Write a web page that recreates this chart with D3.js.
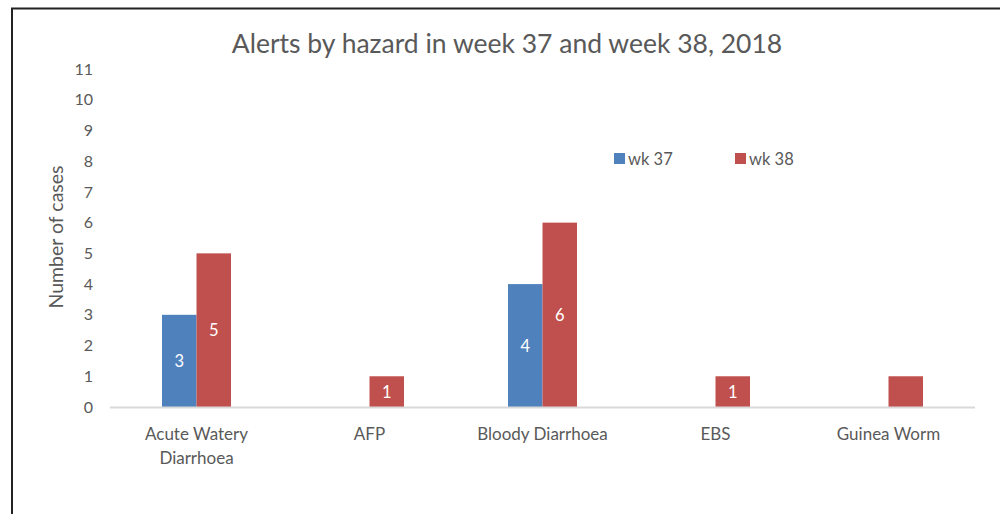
<!DOCTYPE html>
<html>
<head>
<meta charset="utf-8">
<script src="https://cdn.jsdelivr.net/npm/d3@7"></script>
<style>
  body { margin: 0; background: #fff; }
  svg text { font-family: Lato, "Open Sans", sans-serif; }
</style>
</head>
<body>
<div id="chart"></div>
<script>
// Chart data
const categories = ["Acute Watery Diarrhoea", "AFP", "Bloody Diarrhoea", "EBS", "Guinea Worm"];
const categoryLines = [["Acute Watery", "Diarrhoea"], ["AFP"], ["Bloody Diarrhoea"], ["EBS"], ["Guinea Worm"]];
const seriesNames = ["wk 37", "wk 38"];
const wk37 = [3, 0, 4, 0, 0];
const wk38 = [5, 1, 6, 1, 1];
// data labels shown in the bars (the Guinea Worm bar has none)
const wk37Labels = [3, null, 4, null, null];
const wk38Labels = [5, 1, 6, 1, null];
const yTicks = [0, 1, 2, 3, 4, 5, 6, 7, 8, 9, 10, 11];

const colors = ["#4F81BD", "#C0504D"];

const WIDTH = 1000;
const HEIGHT = 514;
const margin = { left: 110, right: 25, top: 69, bottom: 107 };

const svg = d3
  .select("#chart")
  .append("svg")
  .attr("width", WIDTH)
  .attr("height", HEIGHT);

// Outer frame
svg
  .append("rect")
  .attr("x", 12)
  .attr("y", 8.5)
  .attr("width", WIDTH + 20)
  .attr("height", HEIGHT + 20)
  .attr("fill", "none")
  .attr("stroke", "#222")
  .attr("stroke-width", 2);

const x = d3
  .scaleBand()
  .domain(categories)
  .range([margin.left, WIDTH - margin.right])
  .paddingInner(0)
  .paddingOuter(0);

const x1 = d3
  .scaleBand()
  .domain(seriesNames)
  .range([0, 69]);

const y = d3
  .scaleLinear()
  .domain([0, 11])
  .range([HEIGHT - margin.bottom, margin.top]);

// Title
svg
  .append("text")
  .attr("x", 507)
  .attr("y", 53)
  .attr("text-anchor", "middle")
  .style("font-size", "26.5px")
  .style("fill", "#595959")
  .text("Alerts by hazard in week 37 and week 38, 2018");

// Y axis (no line, only labels)
const yAxis = svg
  .append("g")
  .attr("transform", `translate(${margin.left - 17},0)`)
  .call(d3.axisLeft(y).tickValues(yTicks).tickSize(0).tickPadding(0));
yAxis.select(".domain").remove();
yAxis
  .selectAll("text")
  .style("font-size", "16px")
  .style("fill", "#595959");

// Y axis title
svg
  .append("text")
  .attr("transform", `translate(63, 237) rotate(-90)`)
  .attr("text-anchor", "middle")
  .style("font-size", "19.5px")
  .style("fill", "#595959")
  .text("Number of cases");

// Bars
const rows = categories.map((c, i) => ({
  category: c,
  values: [
    { series: seriesNames[0], value: wk37[i], label: wk37Labels[i], color: colors[0] },
    { series: seriesNames[1], value: wk38[i], label: wk38Labels[i], color: colors[1] },
  ],
}));

const groups = svg
  .selectAll(".group")
  .data(rows)
  .enter()
  .append("g")
  .attr("class", "group")
  .attr("transform", (d) => `translate(${x(d.category) + x.bandwidth() / 2 - 34.5},0)`);

groups
  .selectAll("rect")
  .data((d) => d.values.filter((v) => v.value > 0))
  .enter()
  .append("rect")
  .attr("x", (d) => x1(d.series))
  .attr("y", (d) => y(d.value))
  .attr("width", x1.bandwidth())
  .attr("height", (d) => y(0) - y(d.value))
  .attr("fill", (d) => d.color);

groups
  .selectAll(".bar-label")
  .data((d) => d.values.filter((v) => v.label != null))
  .enter()
  .append("text")
  .attr("class", "bar-label")
  .attr("x", (d) => x1(d.series) + x1.bandwidth() / 2)
  .attr("y", (d) => (y(d.value) + y(0)) / 2 + 6)
  .attr("text-anchor", "middle")
  .style("font-size", "16.5px")
  .style("fill", "#fff")
  .text((d) => d.label);

// Baseline
svg
  .append("line")
  .attr("x1", margin.left)
  .attr("x2", WIDTH - margin.right)
  .attr("y1", y(0) + 0.5)
  .attr("y2", y(0) + 0.5)
  .attr("stroke", "#d9d9d9")
  .attr("stroke-width", 2);

// Category labels
const catLabels = svg
  .selectAll(".cat-label")
  .data(categories)
  .enter()
  .append("text")
  .attr("class", "cat-label")
  .attr("text-anchor", "middle")
  .style("font-size", "17px")
  .style("fill", "#595959");

catLabels
  .selectAll("tspan")
  .data((d, i) => categoryLines[i].map((line) => ({ line, cat: d })))
  .enter()
  .append("tspan")
  .attr("x", (d) => x(d.cat) + x.bandwidth() / 2)
  .attr("y", (d, i) => 440 + i * 24)
  .text((d) => d.line);

// Legend
const legend = svg
  .selectAll(".legend")
  .data(seriesNames)
  .enter()
  .append("g")
  .attr("class", "legend")
  .attr("transform", (d, i) => `translate(${614 + i * 121},153)`);

legend
  .append("rect")
  .attr("width", 11)
  .attr("height", 11)
  .attr("fill", (d, i) => colors[i]);

legend
  .append("text")
  .attr("x", 14)
  .attr("y", 11.5)
  .style("font-size", "16.5px")
  .style("fill", "#595959")
  .text((d) => d);
</script>
</body>
</html>
